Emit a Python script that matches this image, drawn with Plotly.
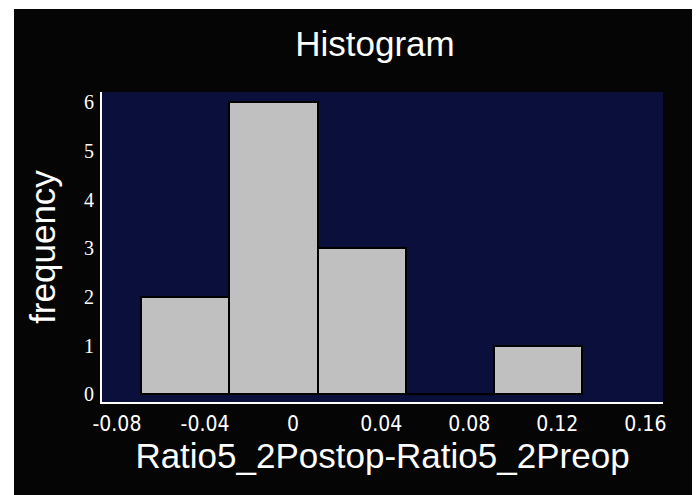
import plotly.graph_objects as go

# Data
bin_edges = [-0.0691, -0.0290, 0.0111, 0.0512, 0.0913, 0.1314]
counts = [2, 6, 3, 0, 1]
x_tick_vals = [-0.08, -0.04, 0, 0.04, 0.08, 0.12, 0.16]
x_tick_text = ["-0.08", "-0.04", "0", "0.04", "0.08", "0.12", "0.16"]
y_tick_vals = [0, 1, 2, 3, 4, 5, 6]

# page has an 8px body margin, so the figure is sized to fit the window
W, H = 692, 487
L, R, T, B = 94, 37, 84, 93
pw, ph = W - L - R, H - T - B

centers = [(a + b) / 2 for a, b in zip(bin_edges[:-1], bin_edges[1:])]
widths = [b - a for a, b in zip(bin_edges[:-1], bin_edges[1:])]

fig = go.Figure()
fig.add_trace(go.Bar(
    x=centers, y=counts, width=widths,
    marker=dict(color="#c0c0c0", line=dict(color="#000000", width=2)),
    showlegend=False, hoverinfo="skip",
))
# zero-count bins drawn as a flat outline
for i, c in enumerate(counts):
    if c == 0:
        fig.add_trace(go.Scatter(
            x=[bin_edges[i], bin_edges[i + 1]], y=[0, 0], mode="lines",
            line=dict(color="#000000", width=2), showlegend=False, hoverinfo="skip",
        ))

def px_x(p):
    return (p - L) / pw

def px_y(p):
    return (H - B - p) / ph

shapes = [
    dict(type="rect", xref="paper", yref="paper", x0=px_x(0), x1=px_x(6), y0=px_y(H), y1=px_y(0),
         fillcolor="white", line=dict(width=0), layer="above"),
    dict(type="rect", xref="paper", yref="paper", x0=px_x(0), x1=px_x(W), y0=px_y(1), y1=px_y(0),
         fillcolor="white", line=dict(width=0), layer="above"),
]

fig.update_layout(
    width=W, height=H,
    margin=dict(l=L, r=R, t=T, b=B, pad=0),
    paper_bgcolor="#050505",
    plot_bgcolor="#0b0f3b",
    bargap=0,
    shapes=shapes,
    title=dict(text="Histogram", x=367 / W, xanchor="center",
               y=1 - 36 / H, yanchor="middle",
               font=dict(family="Liberation Sans, Arial", size=35, color="white")),
    xaxis=dict(
        range=[-0.0868, 0.168], tickvals=x_tick_vals, ticktext=x_tick_text,
        showgrid=False, zeroline=False, showline=True, linecolor="white", linewidth=2,
        ticks="", ticklabelstandoff=2,
        tickfont=dict(family="Liberation Sans Narrow, DejaVu Sans Condensed", size=21, color="white"),
        title=dict(text="Ratio5_2Postop-Ratio5_2Preop", standoff=7,
                   font=dict(family="Liberation Sans, Arial", size=35, color="white")),
    ),
    yaxis=dict(
        range=[-0.158, 6.215], tickvals=y_tick_vals,
        showgrid=False, zeroline=False, showline=True, linecolor="white", linewidth=2,
        ticks="", ticklabelstandoff=2,
        tickfont=dict(family="Liberation Serif, Times New Roman", size=20, color="white"),
        title=dict(text="frequency", standoff=18,
                   font=dict(family="Liberation Sans, Arial", size=35, color="white")),
    ),
)

fig.write_html("out.html")
